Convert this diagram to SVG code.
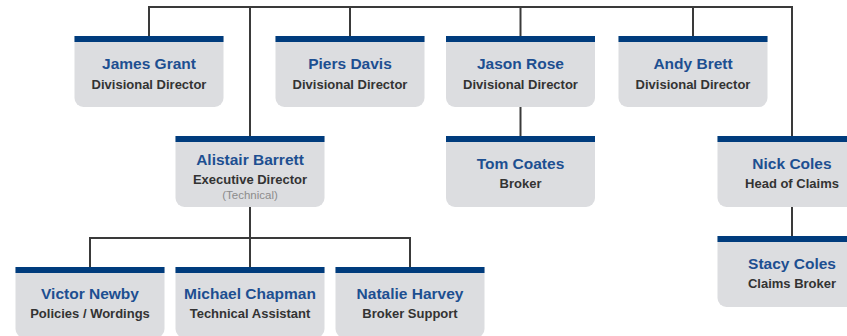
<svg xmlns="http://www.w3.org/2000/svg" width="847" height="336" viewBox="0 0 847 336">
<defs>
<style>
.box{fill:#dcdde0}
.bar{fill:#003c7d}
.nm{font-family:"Liberation Sans",Arial,sans-serif;font-weight:bold;font-size:15.5px;fill:#1d4f91;text-anchor:middle}
.rl{font-family:"Liberation Sans",Arial,sans-serif;font-weight:bold;font-size:13px;fill:#333333;text-anchor:middle}
.nt{font-family:"Liberation Sans",Arial,sans-serif;font-size:11.5px;fill:#8c8c8c;text-anchor:middle}
.ln{fill:none;stroke:#3a3a3a;stroke-width:2}
</style>
<path id="card" d="M0 0H149V62A9 9 0 0 1 140 71H9A9 9 0 0 1 0 62Z"/>
</defs>
<rect width="847" height="336" fill="#ffffff"/>
<g id="connectors" class="ln">
<path d="M149 36V7H792V136"/>
<path d="M350 7V36"/>
<path d="M520.5 7V36"/>
<path d="M693 7V36"/>
<path d="M250 7V136"/>
<path d="M520.5 107V136"/>
<path d="M792 207V236"/>
<path d="M250 207V267"/>
<path d="M90 267V238H410V267"/>
</g>
<g id="james-grant" transform="translate(74.5,36)">
<use href="#card" class="box"/><rect class="bar" width="149" height="6"/>
<text class="nm" x="74.5" y="33">James Grant</text>
<text class="rl" x="74.5" y="53">Divisional Director</text>
</g>
<g id="piers-davis" transform="translate(275.5,36)">
<use href="#card" class="box"/><rect class="bar" width="149" height="6"/>
<text class="nm" x="74.5" y="33">Piers Davis</text>
<text class="rl" x="74.5" y="53">Divisional Director</text>
</g>
<g id="jason-rose" transform="translate(446,36)">
<use href="#card" class="box"/><rect class="bar" width="149" height="6"/>
<text class="nm" x="74.5" y="33">Jason Rose</text>
<text class="rl" x="74.5" y="53">Divisional Director</text>
</g>
<g id="andy-brett" transform="translate(618.5,36)">
<use href="#card" class="box"/><rect class="bar" width="149" height="6"/>
<text class="nm" x="74.5" y="33">Andy Brett</text>
<text class="rl" x="74.5" y="53">Divisional Director</text>
</g>
<g id="alistair-barrett" transform="translate(175.5,136)">
<use href="#card" class="box"/><rect class="bar" width="149" height="6"/>
<text class="nm" x="74.5" y="29">Alistair Barrett</text>
<text class="rl" x="74.5" y="48">Executive Director</text>
<text class="nt" x="74.5" y="63">(Technical)</text>
</g>
<g id="tom-coates" transform="translate(446,136)">
<use href="#card" class="box"/><rect class="bar" width="149" height="6"/>
<text class="nm" x="74.5" y="33">Tom Coates</text>
<text class="rl" x="74.5" y="52">Broker</text>
</g>
<g id="nick-coles" transform="translate(717.5,136)">
<use href="#card" class="box"/><rect class="bar" width="149" height="6"/>
<text class="nm" x="74.5" y="33">Nick Coles</text>
<text class="rl" x="74.5" y="52">Head of Claims</text>
</g>
<g id="stacy-coles" transform="translate(717.5,236)">
<use href="#card" class="box"/><rect class="bar" width="149" height="6"/>
<text class="nm" x="74.5" y="33">Stacy Coles</text>
<text class="rl" x="74.5" y="52">Claims Broker</text>
</g>
<g id="victor-newby" transform="translate(15.5,267)">
<use href="#card" class="box"/><rect class="bar" width="149" height="6"/>
<text class="nm" x="74.5" y="32">Victor Newby</text>
<text class="rl" x="74.5" y="51">Policies / Wordings</text>
</g>
<g id="michael-chapman" transform="translate(175.5,267)">
<use href="#card" class="box"/><rect class="bar" width="149" height="6"/>
<text class="nm" x="74.5" y="32">Michael Chapman</text>
<text class="rl" x="74.5" y="51">Technical Assistant</text>
</g>
<g id="natalie-harvey" transform="translate(335.5,267)">
<use href="#card" class="box"/><rect class="bar" width="149" height="6"/>
<text class="nm" x="74.5" y="32">Natalie Harvey</text>
<text class="rl" x="74.5" y="51">Broker Support</text>
</g>
</svg>
